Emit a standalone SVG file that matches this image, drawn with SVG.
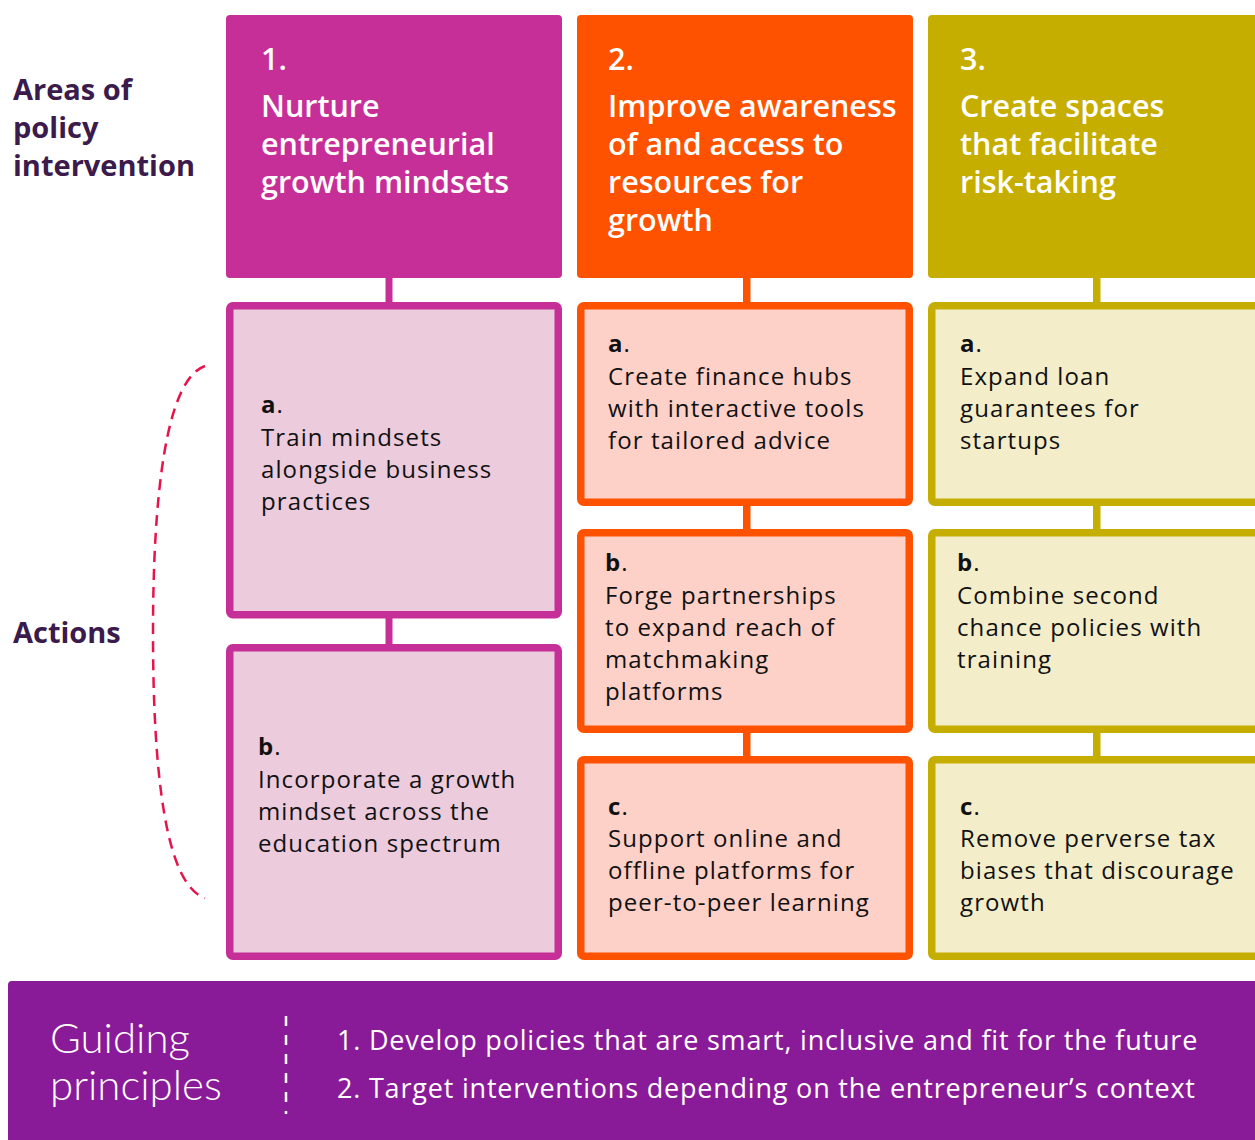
<svg xmlns="http://www.w3.org/2000/svg" width="1255" height="1140" viewBox="0 0 1255 1140">
  <style>
    text { font-family: "Open Sans", "Noto Sans", "Liberation Sans", sans-serif; }
    .side { font-size: 29px; font-weight: 700; fill: #3b1a4c; }
    .head { font-size: 30.5px; font-weight: 600; fill: #ffffff; }
    .act { font-size: 24px; letter-spacing: 1.1px; fill: #111111; }
    .act .k { font-weight: 700; }
    .gp { font-family: Lato, "Open Sans", sans-serif; font-size: 42px; font-weight: 300; fill: #ffffff; }
    .pr { font-size: 27px; letter-spacing: 0.8px; fill: #ffffff; }
    .c1 { fill: #c72f98; }
    .c2 { fill: #ff5200; }
    .c3 { fill: #c6ae00; }
    .b1 { fill: #ebcbdc; stroke: #c72f98; stroke-width: 7.5; }
    .b2 { fill: #fdd0c8; stroke: #ff5200; stroke-width: 7.5; }
    .b3 { fill: #f3edca; stroke: #c6ae00; stroke-width: 7.5; }
  </style>

  <!-- side labels -->
  <g id="label-areas">
    <text class="side" x="13" y="100">Areas of</text>
    <text class="side" x="13" y="138">policy</text>
    <text class="side" x="13" y="176">intervention</text>
  </g>
  <g id="label-actions">
    <text class="side" x="13" y="643">Actions</text>
    <path d="M205,366 C165,380 153,500 153,633 C153,770 165,885 205,898" fill="none" stroke="#e5154c" stroke-width="2.5" stroke-dasharray="11 7"/>
  </g>

  <!-- connectors between stacked boxes -->
  <g id="connectors">
    <rect class="c1" x="385.5" y="276" width="7" height="28"/>
    <rect class="c1" x="385.5" y="616" width="7" height="30"/>
    <rect class="c2" x="743" y="276" width="7.5" height="28"/>
    <rect class="c2" x="743" y="503" width="7.5" height="28"/>
    <rect class="c2" x="743" y="730" width="7.5" height="28"/>
    <rect class="c3" x="1093" y="276" width="7.5" height="28"/>
    <rect class="c3" x="1093" y="503" width="7.5" height="28"/>
    <rect class="c3" x="1093" y="730" width="7.5" height="28"/>
  </g>

  <!-- area 1 -->
  <g id="area-1">
    <rect class="c1" x="226" y="15" width="336" height="263" rx="4"/>
    <text class="head" x="261" y="70">1.</text>
    <text class="head" x="261" y="117">Nurture</text>
    <text class="head" x="261" y="155">entrepreneurial</text>
    <text class="head" x="261" y="193">growth mindsets</text>
  </g>
  <g id="action-1a">
    <rect class="b1" x="229.75" y="305.75" width="328.5" height="309" rx="3"/>
    <text class="act" x="261" y="413"><tspan class="k">a</tspan>.</text>
    <text class="act" x="261" y="446">Train mindsets</text>
    <text class="act" x="261" y="478">alongside business</text>
    <text class="act" x="261" y="510">practices</text>
  </g>
  <g id="action-1b">
    <rect class="b1" x="229.75" y="647.75" width="328.5" height="308.5" rx="3"/>
    <text class="act" x="258" y="755"><tspan class="k">b</tspan>.</text>
    <text class="act" x="258" y="788">Incorporate a growth</text>
    <text class="act" x="258" y="820">mindset across the</text>
    <text class="act" x="258" y="852">education spectrum</text>
  </g>

  <!-- area 2 -->
  <g id="area-2">
    <rect class="c2" x="577" y="15" width="336" height="263" rx="4"/>
    <text class="head" x="608" y="70">2.</text>
    <text class="head" x="608" y="117">Improve awareness</text>
    <text class="head" x="608" y="155">of and access to</text>
    <text class="head" x="608" y="193">resources for</text>
    <text class="head" x="608" y="231">growth</text>
  </g>
  <g id="action-2a">
    <rect class="b2" x="580.75" y="305.75" width="328.5" height="196.5" rx="3"/>
    <text class="act" x="608" y="352"><tspan class="k">a</tspan>.</text>
    <text class="act" x="608" y="385">Create finance hubs</text>
    <text class="act" x="608" y="417">with interactive tools</text>
    <text class="act" x="608" y="449">for tailored advice</text>
  </g>
  <g id="action-2b">
    <rect class="b2" x="580.75" y="532.75" width="328.5" height="196.5" rx="3"/>
    <text class="act" x="605" y="571"><tspan class="k">b</tspan>.</text>
    <text class="act" x="605" y="604">Forge partnerships</text>
    <text class="act" x="605" y="636">to expand reach of</text>
    <text class="act" x="605" y="668">matchmaking</text>
    <text class="act" x="605" y="700">platforms</text>
  </g>
  <g id="action-2c">
    <rect class="b2" x="580.75" y="759.75" width="328.5" height="196.5" rx="3"/>
    <text class="act" x="608" y="815"><tspan class="k">c</tspan>.</text>
    <text class="act" x="608" y="847">Support online and</text>
    <text class="act" x="608" y="879">offline platforms for</text>
    <text class="act" x="608" y="911">peer-to-peer learning</text>
  </g>

  <!-- area 3 -->
  <g id="area-3">
    <rect class="c3" x="928" y="15" width="340" height="263" rx="4"/>
    <text class="head" x="960" y="70">3.</text>
    <text class="head" x="960" y="117">Create spaces</text>
    <text class="head" x="960" y="155">that facilitate</text>
    <text class="head" x="960" y="193">risk-taking</text>
  </g>
  <g id="action-3a">
    <rect class="b3" x="931.75" y="305.75" width="340" height="196.5" rx="3"/>
    <text class="act" x="960" y="352"><tspan class="k">a</tspan>.</text>
    <text class="act" x="960" y="385">Expand loan</text>
    <text class="act" x="960" y="417">guarantees for</text>
    <text class="act" x="960" y="449">startups</text>
  </g>
  <g id="action-3b">
    <rect class="b3" x="931.75" y="532.75" width="340" height="196.5" rx="3"/>
    <text class="act" x="957" y="571"><tspan class="k">b</tspan>.</text>
    <text class="act" x="957" y="604">Combine second</text>
    <text class="act" x="957" y="636">chance policies with</text>
    <text class="act" x="957" y="668">training</text>
  </g>
  <g id="action-3c">
    <rect class="b3" x="931.75" y="759.75" width="340" height="196.5" rx="3"/>
    <text class="act" x="960" y="815"><tspan class="k">c</tspan>.</text>
    <text class="act" x="960" y="847">Remove perverse tax</text>
    <text class="act" x="960" y="879">biases that discourage</text>
    <text class="act" x="960" y="911">growth</text>
  </g>

  <!-- guiding principles band -->
  <g id="guiding-principles">
    <rect x="8" y="981" width="1260" height="170" rx="4" fill="#8a1b98"/>
    <text class="gp" x="50" y="1053">Guiding</text>
    <text class="gp" x="50" y="1100">principles</text>
    <line x1="286" y1="1016" x2="286" y2="1114" stroke="#ffffff" stroke-width="2.5" stroke-dasharray="10 9"/>
    <text class="pr" x="337" y="1050">1. Develop policies that are smart, inclusive and fit for the future</text>
    <text class="pr" x="337" y="1098">2. Target interventions depending on the entrepreneur’s context</text>
  </g>
</svg>
